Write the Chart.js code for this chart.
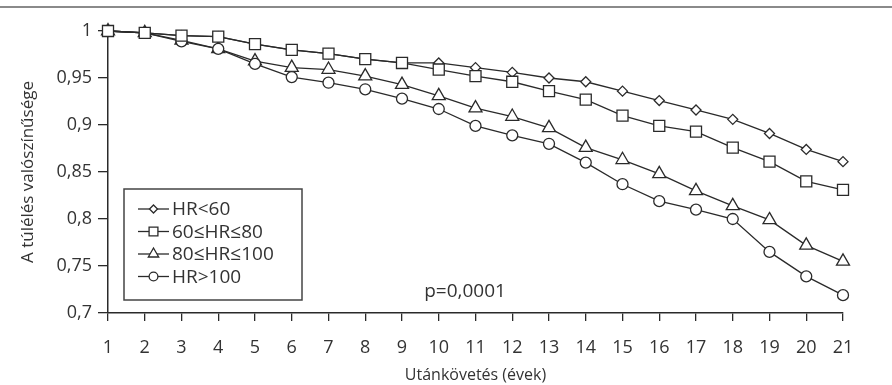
<!DOCTYPE html>
<html>
<head>
<meta charset="utf-8">
<script src="https://cdn.jsdelivr.net/npm/chart.js@4/dist/chart.umd.min.js"></script>
<style>
  html, body { margin: 0; padding: 0; background: #fff; }
  #wrap { width: 892px; height: 385px; }
</style>
</head>
<body>
<div id="wrap"><canvas id="survivalChart"></canvas></div>
<script>
const years = ['1','2','3','4','5','6','7','8','9','10','11','12','13','14','15','16','17','18','19','20','21'];
const hrBelow60 = [1, 0.998, 0.995, 0.994, 0.986, 0.980, 0.976, 0.970, 0.966, 0.966, 0.961, 0.956, 0.950, 0.946, 0.936, 0.926, 0.916, 0.906, 0.891, 0.874, 0.861];
const hr60to80 = [1, 0.998, 0.995, 0.994, 0.986, 0.980, 0.976, 0.970, 0.966, 0.959, 0.952, 0.946, 0.936, 0.927, 0.910, 0.899, 0.893, 0.876, 0.861, 0.840, 0.831];
const hr80to100 = [1, 0.998, 0.990, 0.981, 0.968, 0.961, 0.959, 0.952, 0.943, 0.931, 0.918, 0.909, 0.897, 0.876, 0.863, 0.848, 0.830, 0.814, 0.799, 0.772, 0.755];
const hrAbove100 = [1, 0.998, 0.989, 0.981, 0.965, 0.951, 0.945, 0.938, 0.928, 0.917, 0.899, 0.889, 0.880, 0.860, 0.837, 0.819, 0.810, 0.800, 0.765, 0.739, 0.719];
const seriesNames = ['HR<60', '60≤HR≤80', '80≤HR≤100', 'HR>100'];

const ink = '#2a2a2a';
const textColor = '#333';
const fontFamily = '"Open Sans", Lato, sans-serif';

function series(label, data, style, radius, order) {
  return {
    label: label,
    data: data,
    borderColor: ink,
    borderWidth: 1.3,
    pointStyle: style,
    pointRadius: radius,
    pointHoverRadius: radius,
    pointBackgroundColor: '#fff',
    pointBorderColor: ink,
    pointBorderWidth: 1.3,
    tension: 0,
    fill: false,
    clip: false,
    order: order
  };
}

// marker drawing for the legend box
function marker(ctx, style, x, y, r) {
  ctx.beginPath();
  if (style === 'rectRot') {
    ctx.moveTo(x, y - r); ctx.lineTo(x + r, y); ctx.lineTo(x, y + r); ctx.lineTo(x - r, y);
    ctx.closePath();
  } else if (style === 'rect') {
    const s = r * Math.SQRT1_2;
    ctx.rect(x - s, y - s, 2 * s, 2 * s);
  } else if (style === 'triangle') {
    ctx.moveTo(x, y - r);
    ctx.lineTo(x + r * 0.866, y + r * 0.5);
    ctx.lineTo(x - r * 0.866, y + r * 0.5);
    ctx.closePath();
  } else {
    ctx.arc(x, y, r, 0, Math.PI * 2);
  }
  ctx.fill();
  ctx.stroke();
}

const extras = {
  id: 'extras',
  beforeDraw(chart) {
    const ctx = chart.ctx;
    ctx.save();
    ctx.fillStyle = '#fff';
    ctx.fillRect(0, 0, chart.width, chart.height);
    ctx.fillStyle = '#8a8a8a';
    ctx.fillRect(0, 6, chart.width, 2);
    ctx.restore();
  },
  afterDraw(chart) {
    const ctx = chart.ctx;
    const area = chart.chartArea;
    ctx.save();
    // legend box
    const bx = area.left + 16, by = area.top + 158;
    ctx.strokeStyle = '#444';
    ctx.lineWidth = 1.5;
    ctx.strokeRect(bx, by, 178, 111);
    ctx.font = '19px ' + fontFamily;
    ctx.textBaseline = 'middle';
    ctx.textAlign = 'left';
    chart.data.datasets.forEach((ds, i) => {
      const y = by + 20 + i * 22.5;
      ctx.strokeStyle = ink;
      ctx.lineWidth = 1.3;
      ctx.beginPath();
      ctx.moveTo(bx + 14, y);
      ctx.lineTo(bx + 45, y);
      ctx.stroke();
      ctx.fillStyle = '#fff';
      marker(ctx, ds.pointStyle, bx + 29.5, y, ds.pointRadius * 0.8);
      ctx.fillStyle = textColor;
      ctx.fillText(ds.label, bx + 48, y + 1);
    });
    // p value
    ctx.font = '19px ' + fontFamily;
    ctx.textAlign = 'center';
    ctx.fillStyle = textColor;
    ctx.fillText('p=0,0001', area.left + 357, area.bottom - 21);
    ctx.restore();
  }
};

new Chart(document.getElementById('survivalChart'), {
  type: 'line',
  data: {
    labels: years,
    datasets: [
      series(seriesNames[0], hrBelow60, 'rectRot', 5, 4),
      series(seriesNames[1], hr60to80, 'rect', 7.8, 1),
      series(seriesNames[2], hr80to100, 'triangle', 7.5, 3),
      series(seriesNames[3], hrAbove100, 'circle', 5.5, 2)
    ]
  },
  options: {
    responsive: true,
    maintainAspectRatio: false,
    animation: false,
    layout: {
      padding: { top: 31, right: 49, left: 0, bottom: 0 }
    },
    plugins: {
      legend: { display: false },
      tooltip: { enabled: false }
    },
    scales: {
      x: {
        offset: false,
        afterFit: (scale) => { scale.height = 72; },
        grid: { drawOnChartArea: false, drawTicks: true, tickLength: 8, color: ink, lineWidth: 1.3 },
        border: { display: true, color: ink, width: 1.5 },
        ticks: { color: textColor, font: { family: fontFamily, size: 18 }, padding: 16, maxRotation: 0, autoSkip: false },
        title: {
          display: true,
          text: 'Utánkövetés (évek)',
          color: textColor,
          font: { family: fontFamily, size: 16 },
          padding: { top: 0, bottom: 0 }
        }
      },
      y: {
        min: 0.7,
        max: 1,
        afterFit: (scale) => { scale.width = 108; },
        grid: { drawOnChartArea: false, drawTicks: true, tickLength: 10, color: ink, lineWidth: 1.3 },
        border: { display: true, color: ink, width: 1.5 },
        ticks: {
          stepSize: 0.05,
          color: textColor,
          padding: 6,
          font: { family: fontFamily, size: 18 },
          callback: (v) => String(Number(v.toFixed(2))).replace('.', ',')
        },
        title: {
          display: true,
          text: 'A túlélés valószínűsége',
          color: textColor,
          font: { family: fontFamily, size: 17 },
          padding: { top: 18, bottom: 0 }
        }
      }
    }
  },
  plugins: [extras]
});
</script>
</body>
</html>
